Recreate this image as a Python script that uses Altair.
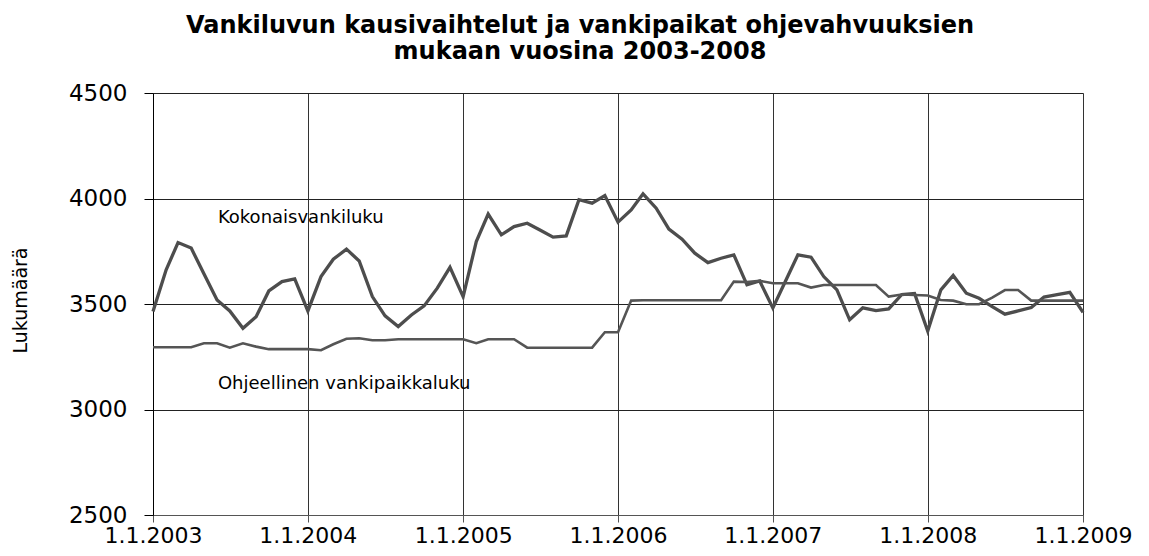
import altair as alt
import pandas as pd

# Monthly observations, 1.1.2003 ... 1.1.2009
months = list(pd.date_range("2003-01-01", "2009-01-01", freq="MS"))

kokonaisvankiluku = [
    3464, 3662, 3791, 3765, 3643, 3519, 3467, 3385, 3440, 3562, 3606, 3619,  # 2003
    3467, 3630, 3712, 3760, 3704, 3535, 3444, 3393, 3448, 3491, 3575, 3674,  # 2004
    3535, 3796, 3926, 3828, 3867, 3883, 3851, 3817, 3823, 3994, 3978, 4014,  # 2005
    3888, 3946, 4022, 3954, 3855, 3807, 3741, 3696, 3717, 3733, 3591, 3609,  # 2006
    3481, 3614, 3733, 3722, 3630, 3567, 3425, 3482, 3469, 3477, 3545, 3550,  # 2007
    3372, 3567, 3635, 3551, 3527, 3488, 3452, 3467, 3483, 3533, 3544, 3555,  # 2008
    3460,                                                                    # 2009
]

ohjeellinen = [
    3295, 3295, 3295, 3295, 3314, 3314, 3293, 3314, 3298, 3286, 3286, 3286,  # 2003
    3286, 3281, 3309, 3335, 3338, 3328, 3328, 3333, 3333, 3333, 3333, 3333,  # 2004
    3333, 3314, 3333, 3333, 3333, 3293, 3293, 3293, 3293, 3293, 3293, 3366,  # 2005
    3366, 3516, 3518, 3518, 3518, 3518, 3518, 3518, 3518, 3606, 3604, 3610,  # 2006
    3598, 3598, 3598, 3578, 3590, 3590, 3590, 3590, 3590, 3535, 3545, 3543,  # 2007
    3540, 3519, 3516, 3499, 3499, 3530, 3566, 3566, 3516, 3516, 3516, 3516,  # 2008
    3516,                                                                    # 2009
]

series_names = ["Kokonaisvankiluku", "Ohjeellinen vankipaikkaluku"]
year_ticks = [2003, 2004, 2005, 2006, 2007, 2008, 2009]
y_ticks = [2500, 3000, 3500, 4000, 4500]

title_lines = [
    "Vankiluvun kausivaihtelut ja vankipaikat ohjevahvuuksien",
    "mukaan vuosina 2003-2008",
]

n = len(months)
df = pd.DataFrame({
    "kk": months * 2,
    "arvo": kokonaisvankiluku + ohjeellinen,
    "sarja": [series_names[0]] * n + [series_names[1]] * n,
})

FONT = "DejaVu Sans"

x_enc = alt.X(
    "kk:T",
    scale=alt.Scale(domain=[alt.DateTime(year=2003, month=1, date=1),
                            alt.DateTime(year=2009, month=1, date=1)]),
    axis=alt.Axis(
        values=[alt.DateTime(year=y, month=1, date=1) for y in year_ticks],
        format="%-d.%-m.%Y",
        title=None,
        grid=True,
        gridColor="#333333",
        gridWidth=1,
        gridOpacity=1,
        tickSize=7,
        tickColor="#555555",
        domainColor="#555555",
        labelPadding=3,
        labelFont=FONT,
        labelFontSize=22,
        labelColor="black",
        labelFlush=False,
        labelOverlap=False,
    ),
)

y_enc = alt.Y(
    "arvo:Q",
    scale=alt.Scale(domain=[2500, 4500], nice=False, zero=False),
    axis=alt.Axis(
        values=y_ticks,
        format="d",
        title="Lukumäärä",
        titleFont=FONT,
        titleFontSize=19,
        titleFontWeight="normal",
        titleColor="black",
        titleAngle=-90,
        titleAlign="center",
        titleBaseline="middle",
        titleX=-133,
        titleY=207,
        grid=True,
        gridColor="#222222",
        gridWidth=1,
        gridOpacity=1,
        tickSize=9,
        tickColor="black",
        domainColor="black",
        labelPadding=17,
        labelFont=FONT,
        labelFontSize=23,
        labelColor="black",
        labelFlush=False,
    ),
)

lines = alt.Chart(df).mark_line(interpolate="linear").encode(
    x=x_enc,
    y=y_enc,
    color=alt.Color("sarja:N", scale=alt.Scale(domain=series_names,
                                                range=["#4d4d4d", "#555555"]),
                    legend=None),
    strokeWidth=alt.StrokeWidth("sarja:N", scale=alt.Scale(domain=series_names,
                                                            range=[3.3, 2.6]),
                                legend=None),
)

label1 = alt.Chart().mark_text(
    text=series_names[0], align="left", baseline="alphabetic",
    font=FONT, fontSize=18, color="black",
).encode(
    x=alt.datum(alt.DateTime(year=2003, month=6, date=3)),
    y=alt.datum(3883),
)

label2 = alt.Chart().mark_text(
    text=series_names[1], align="left", baseline="alphabetic",
    font=FONT, fontSize=18, color="black",
).encode(
    x=alt.datum(alt.DateTime(year=2003, month=6, date=3)),
    y=alt.datum(3096),
)

chart = alt.layer(lines, label1, label2).properties(
    width=930,
    height=422,
    title=alt.TitleParams(
        text=title_lines,
        font=FONT,
        fontSize=24,
        fontWeight="bold",
        color="black",
        anchor="middle",
        dx=-38,
        lineHeight=26,
        offset=18,
    ),
    autosize=alt.AutoSizeParams(type="none"),
    padding={"left": 145, "top": 85, "right": 58, "bottom": 33},
).configure_view(stroke=None).configure(background="white")

chart.save("out.html", embed_options={"renderer": "svg", "actions": False})
